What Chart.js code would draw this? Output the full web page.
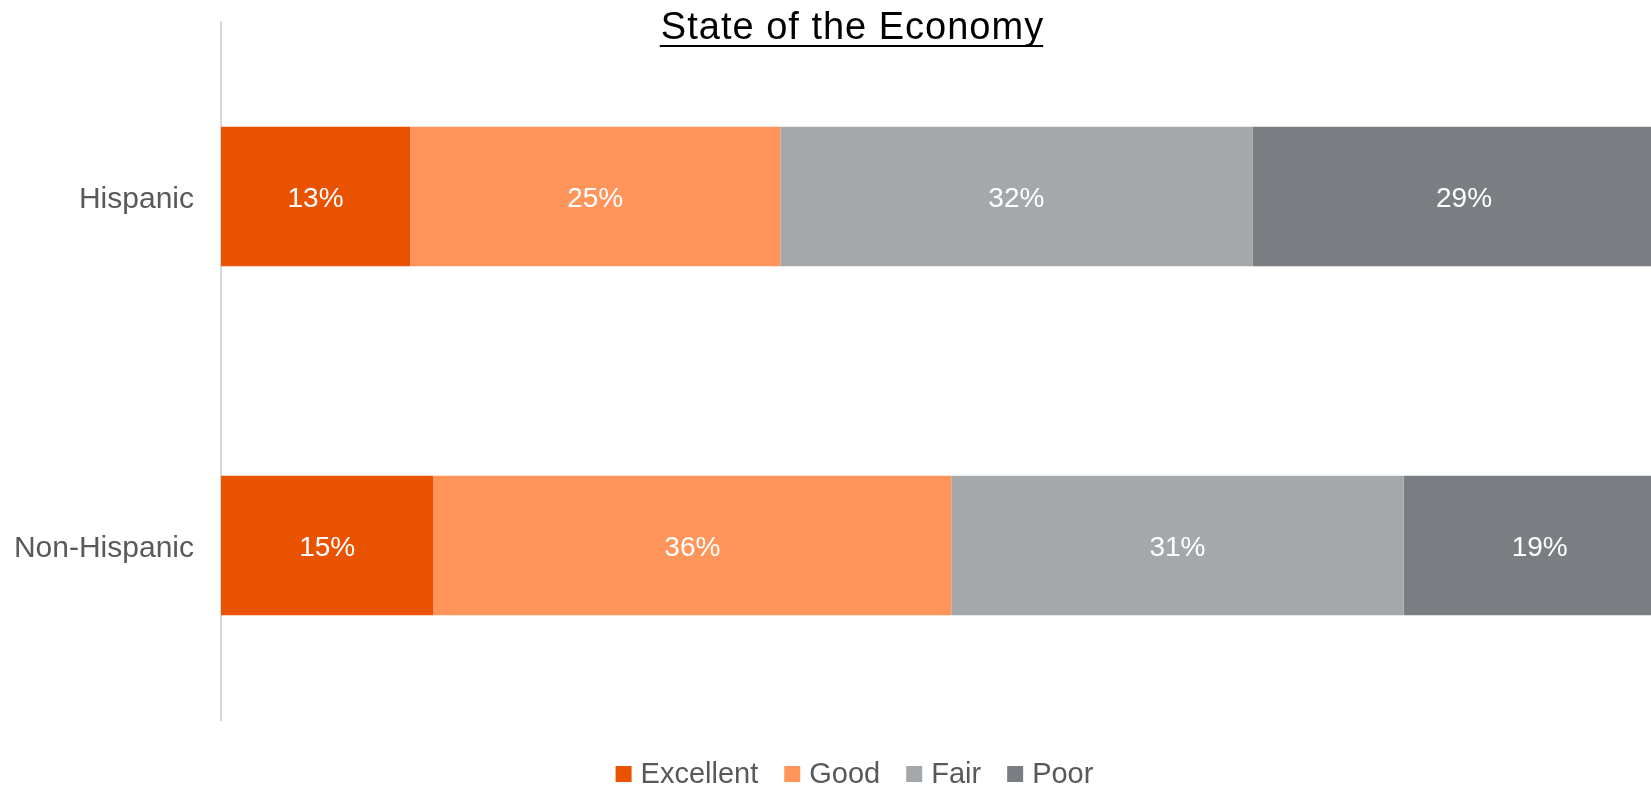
<!DOCTYPE html>
<html>
<head>
<meta charset="utf-8">
<script src="https://cdn.jsdelivr.net/npm/chart.js@4/dist/chart.umd.min.js"></script>
<style>
  html, body { margin: 0; padding: 0; background: #fff; }
  #wrap { width: 1651px; height: 789px; position: relative; }
</style>
</head>
<body>
<div id="wrap"><canvas id="chartEconomy"></canvas></div>
<script>
const title = 'State of the Economy';
const groups = ['Hispanic', 'Non-Hispanic'];
const ratings = ['Excellent', 'Good', 'Fair', 'Poor'];
const excellent = [13.0, 14.6];
const good = [25.45, 35.6];
const fair = [32.45, 31.1];
const poor = [29.1, 18.7];
const colors = ['#E85200', '#FF955B', '#A4A8AB', '#7A7E82'];

const FONT = '"Liberation Sans", Arial, sans-serif';
const GREY = '#595959';

// value labels centered on each bar piece (full bar, even where clipped)
const barLabels = {
  id: 'barLabels',
  afterDatasetsDraw(chart) {
    const ctx = chart.ctx;
    ctx.save();
    ctx.font = '28px ' + FONT;
    ctx.fillStyle = '#fff';
    ctx.textAlign = 'center';
    ctx.textBaseline = 'middle';
    chart.data.datasets.forEach((ds, i) => {
      const meta = chart.getDatasetMeta(i);
      meta.data.forEach((el, j) => {
        const v = ds.data[j];
        ctx.fillText(Math.round(v) + '%', (el.x + el.base) / 2, el.y + 3);
      });
    });
    ctx.restore();
  }
};

// underlined title, drawn over the top padding
const underlinedTitle = {
  id: 'underlinedTitle',
  afterDraw(chart) {
    const ctx = chart.ctx;
    const cx = chart.width / 2 + 26;
    ctx.save();
    ctx.font = '38px ' + FONT;
    ctx.letterSpacing = '1px';
    ctx.fillStyle = '#000';
    ctx.textAlign = 'center';
    ctx.textBaseline = 'alphabetic';
    ctx.fillText(title, cx + 1, 39);
    const w = ctx.measureText(title).width;
    ctx.strokeStyle = '#000';
    ctx.lineWidth = 2;
    ctx.beginPath();
    ctx.moveTo(cx - w / 2, 46);
    ctx.lineTo(cx + w / 2, 46);
    ctx.stroke();
    ctx.restore();
  }
};

// legend row at the bottom
const bottomLegend = {
  id: 'bottomLegend',
  afterDraw(chart) {
    const ctx = chart.ctx;
    const box = 16, gap = 9, spacing = 26;
    const y = 774;
    ctx.save();
    ctx.font = '29px ' + FONT;
    const items = chart.data.datasets.map(ds => ({
      text: ds.label, color: ds.backgroundColor, w: ctx.measureText(ds.label).width
    }));
    const total = items.reduce((a, it) => a + box + gap + it.w, 0) + spacing * (items.length - 1);
    let x = chart.width / 2 + 29 - total / 2;
    ctx.textBaseline = 'middle';
    ctx.textAlign = 'left';
    items.forEach(it => {
      ctx.fillStyle = it.color;
      ctx.fillRect(x, y - box / 2, box, box);
      x += box + gap;
      ctx.fillStyle = GREY;
      ctx.fillText(it.text, x, y + 1);
      x += it.w + spacing;
    });
    ctx.restore();
  }
};

const series = [excellent, good, fair, poor];

new Chart(document.getElementById('chartEconomy').getContext('2d'), {
  type: 'bar',
  data: {
    labels: groups,
    datasets: ratings.map((r, i) => ({
      label: r,
      data: series[i],
      backgroundColor: colors[i],
      borderWidth: 0,
      categoryPercentage: 1,
      barPercentage: 0.4,
    }))
  },
  options: {
    indexAxis: 'y',
    responsive: true,
    maintainAspectRatio: false,
    animation: false,
    layout: { padding: { top: 22, bottom: 69, left: 0, right: 0 } },
    plugins: {
      legend: { display: false },
      title: { display: false },
      tooltip: { enabled: false },
    },
    scales: {
      x: { stacked: true, display: false, min: 0, max: 98.3 },
      y: {
        stacked: true,
        grid: { display: false },
        border: { display: true, color: '#D9D9D9', width: 2 },
        ticks: { color: GREY, font: { family: FONT, size: 30 }, padding: 19, labelOffset: 3 },
        afterFit(scale) {
          scale.width = 221;
          scale.paddingTop = 0;
          scale.paddingBottom = 0;
        }
      }
    }
  },
  plugins: [barLabels, underlinedTitle, bottomLegend]
});
</script>
</body>
</html>
